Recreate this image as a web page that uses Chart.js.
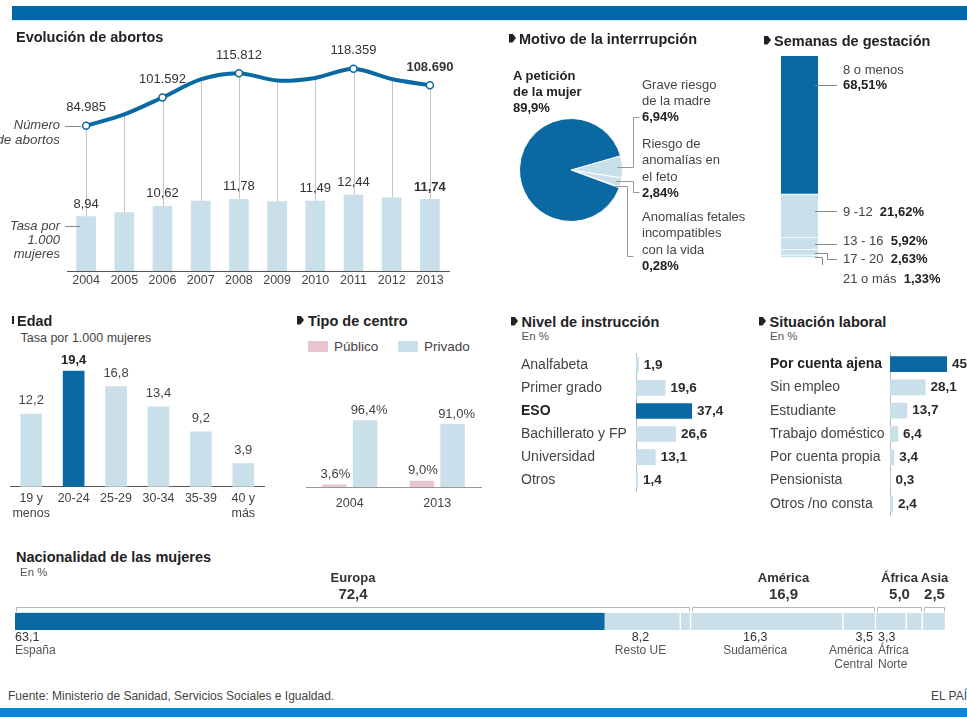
<!DOCTYPE html>
<html lang="es">
<head>
<meta charset="UTF-8">
<title>Interrupción voluntaria del embarazo</title>
<script src="https://cdn.jsdelivr.net/npm/chart.js"></script>
<style>
  html, body { margin: 0; padding: 0; background: #fff; }
  body { width: 967px; height: 717px; position: relative; overflow: hidden;
         font-family: "Liberation Sans", Arial, Helvetica, sans-serif; color: #333; }
  canvas { position: absolute; }
  .lbl { position: absolute; white-space: nowrap; line-height: 1.15; }
  .bullet { position: absolute; width: 7px; height: 9px; background: #222;
            clip-path: polygon(0 0, 50% 0, 100% 50%, 50% 100%, 0 100%); }
  .top-bar { position: absolute; left: 12px; top: 6px; width: 955px; height: 14px; background: #0067ab; }
  .top-line { position: absolute; left: 12px; top: 20px; width: 955px; height: 1px; background: #d3edf7; }
  .bottom-bar { position: absolute; left: 0; top: 708px; width: 967px; height: 9px; background: #0b86d6; }
  .box { position: absolute; width: 20px; height: 11px; }
</style>
</head>
<body>
<div class="top-bar"></div>
<div class="top-line"></div>

<canvas id="cEvol" width="400" height="250" style="left:60px;top:40px"></canvas>
<canvas id="cMotivo" width="250" height="225" style="left:500px;top:60px"></canvas>
<canvas id="cSemanas" width="70" height="215" style="left:775px;top:50px"></canvas>
<canvas id="cEdad" width="262" height="180" style="left:5px;top:345px"></canvas>
<canvas id="cCentro" width="190" height="145" style="left:296px;top:375px"></canvas>
<canvas id="cNivel" width="215" height="155" style="left:521px;top:345px"></canvas>
<canvas id="cSituacion" width="197" height="180" style="left:770px;top:344px"></canvas>
<canvas id="cNac" width="967" height="112" style="left:0;top:568px"></canvas>

<div class="bottom-bar"></div>

<script>
// ---- datos ----
const years = ['2004', '2005', '2006', '2007', '2008', '2009', '2010', '2011', '2012', '2013'];
const abortos = [84985, 91664, 101592, 112138, 115812, 111482, 113031, 118359, 112390, 108690];
const tasa = [8.94, 9.60, 10.62, 11.49, 11.78, 11.41, 11.49, 12.44, 12.01, 11.74];
const abortosRotulados = [0, 2, 4, 7, 9];
const tasaRotulada = [0, 2, 4, 6, 7, 9];

const motivos = ['Grave riesgo de la madre', 'Riesgo de anomalías en el feto',
                 'Anomalías fetales incompatibles con la vida', 'A petición de la mujer'];
const motivoPct = [6.94, 2.84, 0.28, 89.9];

const semanas = ['8 o menos', '9 -12', '13 - 16', '17 - 20', '21 o más'];
const semanasPct = [68.51, 21.62, 5.92, 2.63, 1.33];

const edades = [['19 y', 'menos'], '20-24', '25-29', '30-34', '35-39', ['40 y', 'más']];
const edadTasa = [12.2, 19.4, 16.8, 13.4, 9.2, 3.9];

const centroAnios = ['2004', '2013'];
const publico = [3.6, 9.0];
const privado = [96.4, 91.0];

const niveles = ['Analfabeta', 'Primer grado', 'ESO', 'Bachillerato y FP', 'Universidad', 'Otros'];
const nivelPct = [1.9, 19.6, 37.4, 26.6, 13.1, 1.4];

const situaciones = ['Por cuenta ajena', 'Sin empleo', 'Estudiante', 'Trabajo doméstico',
                     'Por cuenta propia', 'Pensionista', 'Otros /no consta'];
const situacionPct = [45, 28.1, 13.7, 6.4, 3.4, 0.3, 2.4];

const nacSegmentos = ['España', 'Resto UE', 'Resto de Europa', 'Sudamérica', 'América Central',
                      'África Norte', 'Resto de África', 'Asia'];
const nacPct = [63.1, 8.2, 1.1, 16.3, 3.5, 3.3, 1.7, 2.5];
const nacGrupos = ['Europa', 'América', 'África', 'Asia'];
const nacGrupoPct = [72.4, 16.9, 5.0, 2.5];
const nacGrupoSegs = [3, 2, 2, 1];

// ---- estilo ----
const FONT = '"Liberation Sans", Arial, Helvetica, sans-serif';
const DARK = '#0a69a3';
const LIGHT = '#c9dfea';
const PINK = '#e8c5d1';

Chart.defaults.font.family = FONT;
Chart.defaults.color = '#444';
Chart.defaults.animation = false;
Chart.defaults.responsive = false;
Chart.defaults.events = [];
Chart.defaults.plugins.legend.display = false;
Chart.defaults.plugins.tooltip.enabled = false;

const miles = v => String(v).replace(/\B(?=(\d{3})+(?!\d))/g, '.');
const coma = (v, d) => (d == null ? String(v) : v.toFixed(d)).replace('.', ',');

function drawText(ctx, text, x, y, o = {}) {
  ctx.save();
  ctx.font = (o.bold ? 'bold ' : '') + (o.size || 13) + 'px ' + FONT;
  ctx.fillStyle = o.color || '#333';
  ctx.textAlign = o.align || 'center';
  ctx.textBaseline = 'middle';
  ctx.fillText(text, x, y);
  ctx.restore();
}

function put(html, x, y, o = {}) {
  const d = document.createElement('div');
  d.className = 'lbl';
  d.innerHTML = html;
  d.style.left = x + 'px';
  d.style.top = y + 'px';
  d.style.fontSize = (o.size || 13) + 'px';
  if (o.bold) d.style.fontWeight = 'bold';
  if (o.italic) d.style.fontStyle = 'italic';
  d.style.color = o.color || '#3a3a3a';
  const ax = o.align === 'right' ? '-100%' : o.align === 'center' ? '-50%' : '0';
  d.style.transform = 'translate(' + ax + ', -50%)';
  document.body.appendChild(d);
}

function title(text, x, y, bullet) {
  put(text, x, y, { size: 14.5, bold: true, color: '#222' });
  if (bullet != null) {
    const b = document.createElement('div');
    b.className = 'bullet';
    b.style.left = bullet + 'px';
    b.style.top = (y - 5) + 'px';
    document.body.appendChild(b);
  }
}

function line(ctx, pts) {
  ctx.beginPath();
  pts.forEach((p, i) => i ? ctx.lineTo(p[0], p[1]) : ctx.moveTo(p[0], p[1]));
  ctx.stroke();
}

// ---- Evolución de abortos ----
const evolPlugin = {
  id: 'evol',
  beforeDatasetsDraw(chart) {
    const ctx = chart.ctx, bottom = chart.chartArea.bottom;
    ctx.save();
    ctx.strokeStyle = '#c6c6c6';
    ctx.lineWidth = 1;
    chart.getDatasetMeta(0).data.forEach(p => {
      const x = Math.round(p.x) + 0.5;
      line(ctx, [[x, p.y], [x, bottom]]);
    });
    ctx.restore();
  },
  afterDatasetsDraw(chart) {
    const ctx = chart.ctx;
    const pts = chart.getDatasetMeta(0).data, bars = chart.getDatasetMeta(1).data;
    ctx.save();
    ctx.strokeStyle = '#888';
    ctx.lineWidth = 1;
    const py = Math.round(pts[0].y) + 0.5;
    line(ctx, [[pts[0].x - 21, py], [pts[0].x - 5, py]]);
    const by = Math.round(bars[0].y) + 9.5;
    line(ctx, [[bars[0].x - 21, by], [bars[0].x - 6, by]]);
    ctx.restore();
    abortosRotulados.forEach(i =>
      drawText(ctx, miles(abortos[i]), pts[i].x, pts[i].y - 18, { bold: i === 9 }));
    tasaRotulada.forEach(i =>
      drawText(ctx, coma(tasa[i], 2), bars[i].x, bars[i].y - 12.5, { bold: i === 9 }));
  }
};

new Chart(document.getElementById('cEvol'), {
  data: {
    labels: years,
    datasets: [
      { type: 'line', data: abortos, yAxisID: 'yl', order: 0,
        borderColor: DARK, borderWidth: 4, tension: 0.3,
        pointRadius: c => abortosRotulados.includes(c.dataIndex) ? 3.5 : 0,
        pointBackgroundColor: '#fff', pointBorderColor: DARK, pointBorderWidth: 1.5 },
      { type: 'bar', data: tasa, yAxisID: 'yb', order: 1,
        backgroundColor: LIGHT, barThickness: 19 }
    ]
  },
  options: {
    layout: { padding: { left: 7, right: 11, top: 5, bottom: 0 } },
    scales: {
      x: { grid: { display: false, drawTicks: false }, border: { color: '#555' },
           ticks: { padding: 2, font: { size: 12.5 }, color: '#444' } },
      yb: { display: false, min: 0, max: 37 },
      yl: { display: false, min: 0, max: 132000 }
    }
  },
  plugins: [evolPlugin]
});

title('Evolución de abortos', 16, 36.5);
put('Número', 60, 125, { italic: true, align: 'right', color: '#444' });
put('de abortos', 60, 139.5, { size: 13.5, italic: true, align: 'right', color: '#444' });
put('Tasa por', 60, 225.5, { italic: true, align: 'right', color: '#444' });
put('1.000', 60, 239.5, { italic: true, align: 'right', color: '#444' });
put('mujeres', 60, 254, { italic: true, align: 'right', color: '#444' });

// ---- Motivo de la interrupción ----
const motivoGuia = [{ codo: 633, y: 117 }, { codo: 633, y: 192 }, { codo: 627, y: 256 }, null];
const motivoLineas = [['Grave riesgo', 'de la madre'], ['Riesgo de', 'anomalías en', 'el feto'],
                      ['Anomalías fetales', 'incompatibles', 'con la vida'], ['A petición', 'de la mujer']];
const motivoTexto = [{ x: 642, y: 84.5 }, { x: 642, y: 144 }, { x: 642, y: 217 }, { x: 513, y: 75.5 }];

const motivoPlugin = {
  id: 'motivo',
  afterDatasetsDraw(chart) {
    const ctx = chart.ctx, ox = chart.canvas.offsetLeft, oy = chart.canvas.offsetTop;
    ctx.save();
    ctx.strokeStyle = '#999';
    ctx.lineWidth = 1;
    chart.getDatasetMeta(0).data.forEach((arc, i) => {
      const g = motivoGuia[i];
      if (!g) return;
      const a = (arc.startAngle + arc.endAngle) / 2, r = arc.outerRadius * 0.9;
      const sx = arc.x + Math.cos(a) * r, sy = Math.round(arc.y + Math.sin(a) * r) + 0.5;
      const cx = g.codo - ox + 0.5, ty = g.y - oy + 0.5;
      line(ctx, [[sx, sy], [cx, sy], [cx, ty], [cx + 6, ty]]);
    });
    ctx.restore();
  }
};

new Chart(document.getElementById('cMotivo'), {
  type: 'pie',
  data: {
    labels: motivos,
    datasets: [{ data: motivoPct, backgroundColor: [LIGHT, LIGHT, LIGHT, DARK],
                 borderColor: '#fff', borderWidth: 1 }]
  },
  options: {
    rotation: 74,
    layout: { padding: { left: 19, top: 58, right: 127, bottom: 63 } }
  },
  plugins: [motivoPlugin]
});

title('Motivo de la interrrupción', 519, 38.5, 509);
motivoLineas.forEach((ls, i) => {
  const t = motivoTexto[i], bold = i === 3;
  ls.forEach((s, k) => put(s, t.x, t.y + k * 16.4, { bold, color: bold ? '#222' : '#444' }));
  put(coma(motivoPct[i], i === 3 ? 1 : 2) + '%', t.x, t.y + ls.length * 16.4,
      { bold: true, color: '#222' });
});

// ---- Semanas de gestación ----
const semanasGuia = [{ y: 85 }, { y: 211 }, { y: 243.5 }, { codo: 827, y: 259 }, { codo: 822, y: 279 }];

const semanasPlugin = {
  id: 'semanas',
  afterDatasetsDraw(chart) {
    const ctx = chart.ctx, ox = chart.canvas.offsetLeft, oy = chart.canvas.offsetTop;
    ctx.save();
    ctx.strokeStyle = '#888';
    ctx.lineWidth = 1;
    chart.data.datasets.forEach((ds, i) => {
      const bar = chart.getDatasetMeta(i).data[0], g = semanasGuia[i];
      const x0 = bar.x + bar.width / 2 - 3, xEnd = 837 - ox;
      const ty = Math.round(g.y - oy) + 0.5;
      if (g.codo) {
        const cy = Math.round((bar.y + bar.base) / 2) + 0.5, cx = g.codo - ox + 0.5;
        line(ctx, [[x0, cy], [cx, cy], [cx, ty], [xEnd, ty]]);
      } else {
        line(ctx, [[x0, ty], [xEnd, ty]]);
      }
    });
    ctx.restore();
  }
};

new Chart(document.getElementById('cSemanas'), {
  type: 'bar',
  data: {
    labels: ['Semanas'],
    datasets: semanas.map((s, i) => ({
      label: s, data: [semanasPct[i]], backgroundColor: i === 0 ? DARK : LIGHT,
      borderColor: '#fff', borderWidth: { bottom: 1 }, borderSkipped: false,
      barPercentage: 1, categoryPercentage: 1
    }))
  },
  options: {
    layout: { padding: { left: 6, right: 27, top: 6, bottom: 7 } },
    scales: {
      x: { display: false, stacked: true },
      y: { display: false, stacked: true, reverse: true, min: 0,
           max: semanasPct.reduce((a, b) => a + b, 0) }
    }
  },
  plugins: [semanasPlugin]
});

title('Semanas de gestación', 774, 40.5, 764);
put(semanas[0], 843, 69.5, { color: '#444' });
put(coma(semanasPct[0], 2) + '%', 843, 85, { bold: true, color: '#222' });
[211.5, 241, 259, 278.5].forEach((y, k) => {
  const i = k + 1;
  put(semanas[i] + '&nbsp; <b style="color:#222">' + coma(semanasPct[i], 2) + '%</b>', 843, y, { color: '#444' });
});

// ---- Edad ----
const edadPlugin = {
  id: 'edad',
  afterDatasetsDraw(chart) {
    chart.getDatasetMeta(0).data.forEach((b, i) =>
      drawText(chart.ctx, coma(edadTasa[i], 1), b.x, b.y - (i === 1 ? 10.5 : 13.5),
               { bold: i === 1, color: i === 1 ? '#222' : '#444' }));
  }
};

new Chart(document.getElementById('cEdad'), {
  type: 'bar',
  data: {
    labels: edades,
    datasets: [{ data: edadTasa, barThickness: 21,
                 backgroundColor: edadTasa.map((v, i) => i === 1 ? DARK : LIGHT) }]
  },
  options: {
    layout: { padding: { left: 5, right: 2.5, top: 15, bottom: 0 } },
    scales: {
      x: { grid: { display: false, drawTicks: false }, border: { color: '#555' },
           ticks: { padding: 3.5, autoSkip: false, maxRotation: 0,
                    font: { size: 12.5, lineHeight: 1.25 }, color: '#444' } },
      y: { display: false, min: 0, max: 21.25 }
    }
  },
  plugins: [edadPlugin]
});

title('Edad', 17, 320.5);
(() => { const s = document.createElement('div'); s.className = 'bullet';
  s.style.cssText = 'left:12px;top:316px;width:2px;height:8px;clip-path:none'; document.body.appendChild(s); })();
put('Tasa por 1.000 mujeres', 20.5, 337.5, { size: 12.5, color: '#444' });

// ---- Tipo de centro ----
const centroPlugin = {
  id: 'centro',
  afterDatasetsDraw(chart) {
    [0, 1].forEach(d => chart.getDatasetMeta(d).data.forEach((b, i) => {
      const v = chart.data.datasets[d].data[i];
      drawText(chart.ctx, coma(v, 1) + '%', b.x + (d ? 4 : 1), b.y - 10, { color: '#444' });
    }));
  }
};

const centroChart = new Chart(document.getElementById('cCentro'), {
  type: 'bar',
  data: {
    labels: centroAnios,
    datasets: [
      { label: 'Público', data: publico, backgroundColor: PINK, barPercentage: 0.8, categoryPercentage: 0.7 },
      { label: 'Privado', data: privado, backgroundColor: LIGHT, barPercentage: 0.8, categoryPercentage: 0.7 }
    ]
  },
  options: {
    layout: { padding: { left: 10, right: 5, top: 5, bottom: 0 } },
    scales: {
      x: { grid: { display: false, drawTicks: false }, border: { color: '#999' },
           ticks: { padding: 9, font: { size: 12.5 }, color: '#444' } },
      y: { display: false, min: 0, max: 154.6 }
    }
  },
  plugins: [centroPlugin]
});

title('Tipo de centro', 308, 320.5, 297);
centroChart.data.datasets.forEach((ds, i) => {
  const x = [308, 398][i];
  const b = document.createElement('div');
  b.className = 'box';
  b.style.left = x + 'px';
  b.style.top = '341px';
  b.style.background = ds.backgroundColor;
  document.body.appendChild(b);
  put(ds.label, x + 26, 346.5, { size: 13.5, color: '#444' });
});

// ---- Nivel de instrucción / Situación laboral ----
function hbarPlugin(values) {
  return {
    id: 'hbar',
    afterDatasetsDraw(chart) {
      chart.getDatasetMeta(0).data.forEach((b, i) =>
        drawText(chart.ctx, coma(values[i]), b.x + 5, b.y, { bold: true, size: 13.5, align: 'left', color: '#2a2a2a' }));
    }
  };
}

function hbar(id, labels, values, boldIdx, axisWidth, max) {
  new Chart(document.getElementById(id), {
    type: 'bar',
    data: {
      labels,
      datasets: [{ data: values, barPercentage: 0.68, categoryPercentage: 1,
                   backgroundColor: values.map((v, i) => i === boldIdx ? DARK : LIGHT) }]
    },
    options: {
      indexAxis: 'y',
      layout: { padding: { left: 0, right: 0, top: 4.5, bottom: 3 } },
      scales: {
        x: { display: false, min: 0, max },
        y: {
          grid: { display: false, drawTicks: false }, border: { color: '#bbb' },
          afterFit: s => { s.width = axisWidth; },
          ticks: { crossAlign: 'far', padding: 0, autoSkip: false,
                   color: c => c.index === boldIdx ? '#222' : '#444',
                   font: c => ({ size: 14, weight: c.index === boldIdx ? 'bold' : 'normal' }) }
        }
      }
    },
    plugins: [hbarPlugin(values)]
  });
}

hbar('cNivel', niveles, nivelPct, 2, 115, 66.7);
title('Nivel de instrucción', 521.5, 321.5, 511);
put('En %', 521.5, 337, { size: 11.5, color: '#555' });

hbar('cSituacion', situaciones, situacionPct, 0, 120, 60.8);
title('Situación laboral', 769.5, 321.5, 759);
put('En %', 770, 337, { size: 11.5, color: '#555' });

// ---- Nacionalidad de las mujeres ----
const nacRotulo = [['España'], ['Resto UE'], null, ['Sudamérica'], ['América', 'Central'], ['África', 'Norte'], null, null];
const nacAlinea = ['left', 'center', null, 'center', 'right', 'left', null, null];
const nacDesvio = [0, -2, 0, -12, 0, 0, 0, 0];

const nacPlugin = {
  id: 'nac',
  afterDatasetsDraw(chart) {
    const ctx = chart.ctx, oy = chart.canvas.offsetTop;
    const segs = chart.data.datasets.map((d, i) => chart.getDatasetMeta(i).data[0]);
    ctx.save();
    ctx.strokeStyle = '#b5b5b5';
    ctx.lineWidth = 1;
    let k = 0;
    nacGrupoSegs.forEach((n, g) => {
      const first = segs[k], last = segs[k + n - 1];
      k += n;
      const x1 = Math.round(first.base) + 1.5, x2 = Math.round(last.x) - 1.5;
      const by = Math.round(first.y - first.height / 2) - 5.5;
      line(ctx, [[x1, by + 4], [x1, by], [x2, by], [x2, by + 4]]);
      const cx = (x1 + x2) / 2;
      drawText(ctx, nacGrupos[g], cx, 578.5 - oy, { size: 13, bold: true, color: '#333' });
      drawText(ctx, coma(nacGrupoPct[g], 1), cx, 594.5 - oy, { size: 15, bold: true, color: '#333' });
    });
    ctx.restore();
    segs.forEach((s, i) => {
      const r = nacRotulo[i];
      if (!r) return;
      const al = nacAlinea[i];
      const x = (al === 'left' ? s.base + (i ? 2 : 0) : al === 'right' ? s.x - 3 : (s.base + s.x) / 2) + nacDesvio[i];
      drawText(ctx, coma(nacPct[i], 1), x, 637.5 - oy, { size: 12.5, align: al, color: '#333' });
      r.forEach((t, j) => drawText(ctx, t, x, 651 - oy + j * 14, { size: 12, align: al, color: '#555' }));
    });
  }
};

new Chart(document.getElementById('cNac'), {
  type: 'bar',
  data: {
    labels: [''],
    datasets: nacSegmentos.map((s, i) => ({
      label: s, data: [nacPct[i]], backgroundColor: i === 0 ? DARK : LIGHT,
      borderColor: '#fff', borderWidth: i === 0 ? 0 : { right: 1.5 }, borderSkipped: false,
      barPercentage: 1, categoryPercentage: 1
    }))
  },
  options: {
    indexAxis: 'y',
    layout: { padding: { left: 15, right: 21, top: 44.7, bottom: 50 } },
    scales: {
      x: { display: false, stacked: true, min: 0, max: nacPct.reduce((a, b) => a + b, 0) },
      y: { display: false, stacked: true }
    }
  },
  plugins: [nacPlugin]
});

title('Nacionalidad de las mujeres', 16, 557);
put('En %', 20, 573, { size: 11.5, color: '#555' });

put('Fuente: Ministerio de Sanidad, Servicios Sociales e Igualdad.', 8, 697, { size: 12, color: '#444' });
put('EL PAÍS', 931, 697, { size: 12, color: '#444' });
</script>
</body>
</html>
